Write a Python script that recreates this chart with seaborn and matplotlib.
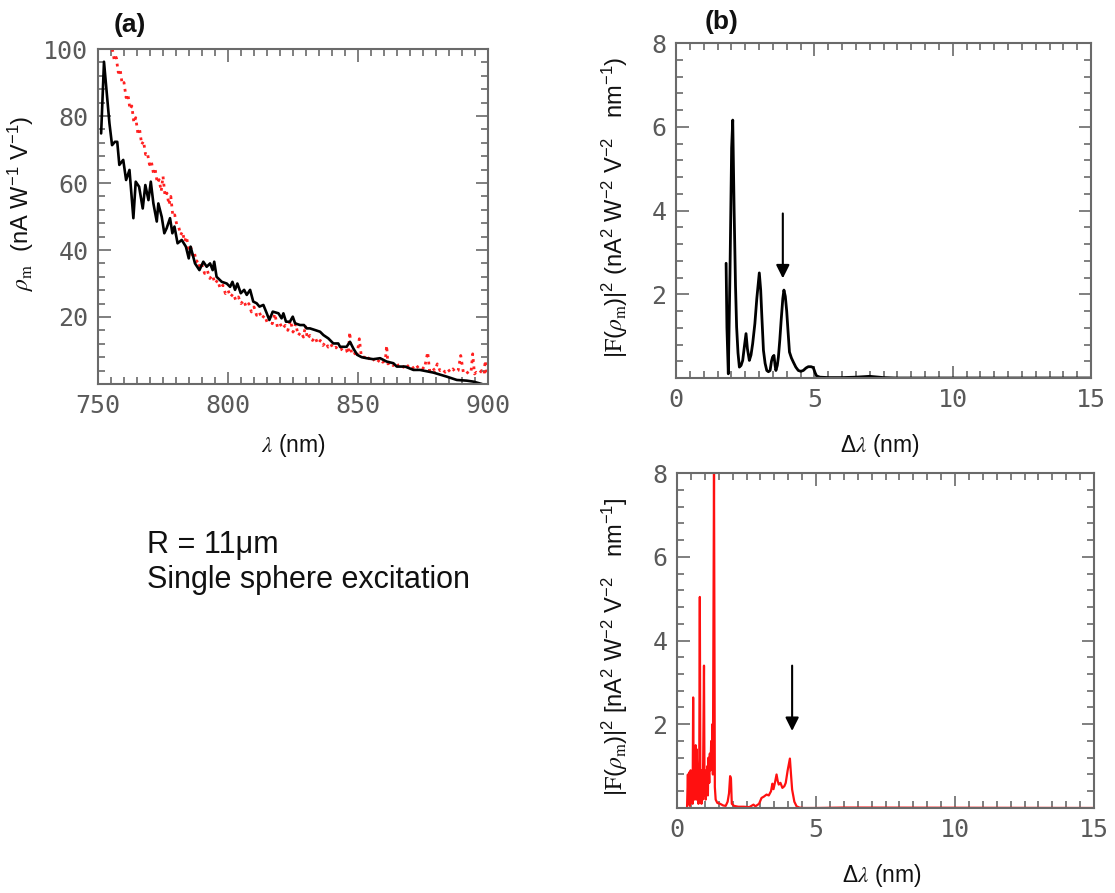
import numpy as np
import pandas as pd
import matplotlib
matplotlib.use("Agg")
import matplotlib.pyplot as plt
from matplotlib.ticker import MultipleLocator, FixedLocator, FixedFormatter
import seaborn as sns

# ---------------- data ----------------
# panel (a): measured (black) responsivity vs wavelength
a_black_x = [751.2, 752.3, 753.6, 754.4, 755.4, 756.5, 757.4, 758.2, 759.7, 760.8,
             762.1, 763.6, 764.5, 765.8, 767.2, 768.2, 769.4, 770.3, 771.3, 772.6,
             773.2, 774.5, 775.5, 776.4, 777.7, 778.6, 779.4, 780.6, 782.2, 783.8,
             784.9, 785.6, 787.3, 789.0, 790.5, 791.8, 793.1, 794.1, 794.7, 795.6,
             797.6, 799.5, 800.8, 801.7, 802.7, 803.6, 804.9, 806.2, 807.2, 808.5,
             809.7, 811.0, 812.1, 813.6, 814.9, 815.9, 817.2, 819.4, 820.6, 821.3,
             822.3, 823.8, 824.9, 825.8, 827.7, 829.2, 830.3, 831.5, 833.5, 835.4,
             836.7, 838.6, 840.5, 842.4, 843.1, 845.6, 846.9, 848.2, 849.7, 851.4,
             853.3, 855.9, 858.5, 861.0, 863.6, 864.9, 868.1, 871.3, 873.8, 879.0,
             884.1, 888.0, 891.8, 894.4, 897.6, 899.0]
a_black_y = [74.8, 96.2, 84.8, 77.8, 71.3, 72.3, 72.3, 65.4, 66.9, 60.9,
             63.9, 49.5, 60.4, 58.9, 52.4, 59.4, 54.9, 60.4, 53.9, 48.5,
             53.9, 49.9, 45.0, 46.5, 49.5, 45.0, 47.0, 42.0, 43.0, 41.0,
             37.5, 41.0, 36.0, 34.0, 36.5, 35.0, 36.0, 34.0, 36.5, 32.0,
             30.5, 30.0, 29.0, 30.5, 28.1, 30.0, 27.1, 28.1, 26.6, 28.1,
             24.6, 24.1, 23.1, 23.6, 21.1, 19.1, 21.6, 21.1, 19.6, 21.1,
             18.6, 18.6, 20.1, 18.1, 17.6, 17.6, 16.6, 16.6, 16.1, 15.6,
             14.6, 13.6, 12.1, 12.1, 11.1, 11.1, 12.6, 10.6, 8.7, 8.0,
             7.7, 7.4, 7.7, 6.7, 6.2, 5.2, 5.2, 4.2, 4.2, 3.4,
             2.2, 1.2, 1.0, 0.7, 0.0, -0.5]

# panel (a): calculated (red, dotted) responsivity vs wavelength
a_red_x = [755.5, 756.3, 757.0, 757.8, 758.5, 759.3, 760.0, 760.8, 761.5, 762.3,
           763.0, 763.8, 764.5, 765.3, 766.0, 766.8, 767.5, 768.3, 769.0, 769.8,
           770.5, 771.3, 772.0, 772.8, 773.5, 774.3, 775.0, 775.8, 776.5, 777.3,
           778.0, 778.8, 779.5, 780.3, 781.0, 781.8, 782.5, 783.3, 784.0, 784.8,
           785.5, 786.3, 787.0, 787.8, 788.5, 789.3, 790.0, 791.0, 792.0, 793.0,
           794.0, 795.0, 796.0, 797.0, 798.0, 799.0, 800.0, 801.0, 802.0, 803.0,
           804.0, 805.0, 806.0, 807.0, 808.0, 809.0, 810.0, 811.0, 812.0, 813.0,
           814.0, 815.0, 816.0, 817.0, 818.0, 819.0, 820.0, 821.0, 822.0, 823.0,
           824.0, 825.0, 826.0, 827.0, 828.0, 829.0, 829.8, 830.5, 831.5, 832.5,
           833.5, 834.5, 835.5, 836.5, 837.5, 838.5, 839.5, 840.5, 841.5, 842.5,
           843.5, 844.5, 845.5, 846.3, 846.8, 847.5, 848.5, 849.5, 850.5, 851.3,
           852.5, 853.5, 854.5, 855.5, 856.5, 857.5, 858.5, 859.5, 860.5, 861.0,
           861.5, 862.5, 863.5, 864.5, 865.5, 866.5, 867.5, 868.5, 869.5, 870.5,
           871.5, 872.5, 873.5, 874.5, 875.5, 876.8, 877.5, 878.5, 879.5, 880.5,
           881.5, 882.5, 883.5, 884.5, 885.5, 886.5, 887.5, 888.5, 889.5, 890.5,
           891.5, 892.5, 893.5, 894.1, 894.8, 895.5, 896.5, 897.5, 898.5, 898.9,
           899.5, 900.0]
a_red_y = [100.0, 96.5, 97.5, 93.0, 94.0, 89.5, 90.0, 85.5, 86.5, 82.0,
           83.0, 78.0, 79.5, 75.0, 76.0, 71.5, 72.5, 68.5, 69.0, 65.5,
           66.5, 63.0, 64.0, 60.0, 61.0, 57.5, 62.0, 56.0, 57.0, 53.5,
           56.0, 50.0, 50.5, 47.5, 47.0, 44.5, 45.5, 42.5, 44.0, 40.5,
           41.5, 38.5, 39.5, 36.5, 37.0, 34.5, 35.5, 33.0, 34.0, 31.5,
           32.5, 30.0, 31.0, 28.5, 29.5, 27.0, 28.0, 26.0, 27.0, 25.0,
           26.0, 24.0, 25.0, 23.0, 24.0, 21.5, 23.0, 20.5, 21.5, 19.5,
           20.5, 18.5, 20.0, 18.0, 21.0, 17.0, 18.0, 16.5, 17.5, 16.0,
           19.0, 15.5, 18.0, 14.5, 15.5, 14.0, 17.5, 13.5, 14.5, 13.0,
           14.0, 12.0, 13.0, 11.5, 12.5, 11.0, 12.0, 10.5, 11.0, 10.0,
           10.5, 9.5, 10.0, 9.0, 15.5, 9.0, 9.5, 8.0, 13.5, 8.0,
           8.0, 7.0, 8.0, 7.0, 7.5, 6.5, 7.5, 6.5, 7.0, 11.5,
           6.0, 6.5, 5.5, 6.5, 5.5, 6.0, 5.0, 6.0, 5.0, 5.5,
           4.5, 5.5, 4.5, 5.0, 4.5, 9.5, 4.0, 5.0, 4.0, 6.0,
           4.0, 4.5, 3.5, 4.5, 3.5, 4.5, 3.5, 4.0, 8.5, 3.5,
           4.0, 3.0, 4.0, 9.0, 3.0, 3.5, 3.0, 4.0, 3.0, 7.0,
           3.0, 3.5]

# panel (b) top: Fourier power spectrum of measured curve (black)
b_black_x = [1.81, 1.84, 1.89, 1.95, 2.01, 2.05, 2.10, 2.15, 2.19, 2.24,
             2.29, 2.35, 2.41, 2.47, 2.53, 2.58, 2.65, 2.71, 2.77, 2.85,
             2.92, 3.01, 3.06, 3.10, 3.16, 3.22, 3.28, 3.34, 3.40, 3.45,
             3.49, 3.54, 3.58, 3.61, 3.66, 3.70, 3.75, 3.80, 3.86, 3.90,
             3.95, 4.00, 4.05, 4.10, 4.17, 4.24, 4.33, 4.42, 4.51, 4.60,
             4.70, 4.78, 4.88, 4.96, 5.03, 5.08, 5.20, 5.50, 6.00, 6.50,
             7.00, 7.50, 8.00, 15.00]
b_black_y = [2.74, 1.20, 0.10, 2.50, 5.50, 6.16, 4.00, 2.20, 1.22, 0.60,
             0.26, 0.30, 0.42, 0.75, 1.06, 0.70, 0.42, 0.55, 0.82, 1.30,
             1.90, 2.51, 2.10, 1.50, 0.66, 0.35, 0.18, 0.15, 0.18, 0.40,
             0.50, 0.54, 0.30, 0.18, 0.30, 0.50, 0.90, 1.38, 1.90, 2.10,
             1.95, 1.60, 1.10, 0.62, 0.48, 0.38, 0.26, 0.18, 0.16, 0.18,
             0.24, 0.27, 0.27, 0.25, 0.12, 0.05, 0.02, 0.01, 0.01, 0.02,
             0.04, 0.01, 0.00, 0.00]

# panel (b) bottom: Fourier power spectrum of calculated curve (red)
c_red_x = [0.36, 0.39, 0.41, 0.44, 0.46, 0.49, 0.51, 0.54, 0.56, 0.58,
           0.60, 0.62, 0.65, 0.67, 0.69, 0.71, 0.73, 0.75, 0.77, 0.80,
           0.82, 0.84, 0.86, 0.88, 0.90, 0.92, 0.94, 0.97, 0.99, 1.01,
           1.03, 1.05, 1.07, 1.09, 1.11, 1.13, 1.16, 1.18, 1.20, 1.23,
           1.25, 1.27, 1.29, 1.33, 1.36, 1.39, 1.45, 1.55, 1.66, 1.75,
           1.82, 1.87, 1.91, 1.94, 1.97, 2.05, 2.20, 2.40, 2.60, 2.75,
           2.82, 2.95, 3.04, 3.12, 3.22, 3.30, 3.38, 3.43, 3.47, 3.52,
           3.58, 3.62, 3.66, 3.72, 3.79, 3.86, 3.91, 3.98, 4.06, 4.10,
           4.14, 4.22, 4.30, 4.40, 4.54, 5.00, 6.00, 15.00]
c_red_y = [0.00, 0.80, 0.10, 0.85, 0.05, 0.90, 0.30, 0.60, 0.10, 2.64,
           0.40, 0.20, 1.00, 1.50, 0.20, 1.40, 0.30, 0.90, 0.10, 1.20,
           5.04, 0.30, 0.90, 0.10, 0.70, 0.20, 1.10, 3.40, 0.30, 0.80,
           0.20, 0.90, 0.40, 1.00, 0.30, 1.20, 0.60, 1.30, 0.90, 1.60,
           1.10, 2.00, 0.80, 8.00, 0.50, 0.20, 0.12, 0.10, 0.06, 0.05,
           0.15, 0.35, 0.76, 0.70, 0.10, 0.05, 0.03, 0.03, 0.02, 0.08,
           0.04, 0.10, 0.24, 0.27, 0.32, 0.30, 0.40, 0.58, 0.45, 0.60,
           0.80, 0.65, 0.56, 0.60, 0.48, 0.52, 0.60, 0.90, 1.18, 0.80,
           0.44, 0.15, 0.04, 0.01, 0.00, 0.00, 0.01, 0.00]

# arrows (annotation: x, y_start, y_tip)
arrow_top = [3.86, 3.93, 2.38]
arrow_bottom = [4.14, 3.40, 1.84]

a_xticks = [750, 800, 850, 900]
a_yticks = [0, 20, 40, 60, 80, 100]
a_yticklabels = ["", "20", "40", "60", "80", "100"]
b_xticks = [0, 5, 10, 15]
b_yticks = [0, 2, 4, 6, 8]
b_yticklabels = ["", "2", "4", "6", "8"]

# ---------------- style ----------------
sns.set_theme(style="ticks")
plt.rcParams["font.family"] = ["Liberation Sans", "DejaVu Sans"]
plt.rcParams["mathtext.fontset"] = "stix"
plt.rcParams["mathtext.default"] = "regular"

SPINE = "#6a6a6a"
TICKTXT = "#5a5a5a"
LABEL = "#111111"

fig = plt.figure(figsize=(11.15, 8.93), dpi=100)
ax_a = fig.add_axes([0.0879, 0.5700, 0.3498, 0.3751])
ax_b = fig.add_axes([0.6063, 0.5767, 0.3722, 0.3751])
ax_c = fig.add_axes([0.6072, 0.0952, 0.3740, 0.3751])


def style_axes(ax, xmin, ymin, xlim, ylim, xticks, yticks, ylabels):
    ax.set_xlim(*xlim)
    ax.set_ylim(*ylim)
    ax.xaxis.set_major_locator(FixedLocator(xticks))
    ax.xaxis.set_minor_locator(MultipleLocator(xmin))
    ax.yaxis.set_major_locator(FixedLocator(yticks))
    ax.yaxis.set_major_formatter(FixedFormatter(ylabels))
    ax.yaxis.set_minor_locator(MultipleLocator(ymin))
    ax.tick_params(which="both", direction="in", top=True, right=True,
                   color=SPINE, width=1.2)
    ax.tick_params(which="major", length=9, pad=7)
    ax.tick_params(which="minor", length=5)
    ax.set_xticklabels([str(t) for t in xticks])
    for lab in ax.get_xticklabels() + ax.get_yticklabels():
        lab.set_fontfamily("DejaVu Sans Mono")
        lab.set_fontsize(18)
        lab.set_color(TICKTXT)
    for sp in ax.spines.values():
        sp.set_color(SPINE)
        sp.set_linewidth(1.5)
    ax.set_facecolor("white")


# ---- panel (a)
df_ab = pd.DataFrame({"x": a_black_x, "y": a_black_y})
df_ar = pd.DataFrame({"x": a_red_x, "y": a_red_y})
sns.lineplot(data=df_ar, x="x", y="y", ax=ax_a, color="#ff2020", lw=2.0,
             linestyle=":", estimator=None, sort=False)
sns.lineplot(data=df_ab, x="x", y="y", ax=ax_a, color="black", lw=1.9,
             estimator=None, sort=False)
style_axes(ax_a, 5, 4, (750, 900), (0, 100), a_xticks, a_yticks, a_yticklabels)
ax_a.set_xlabel(r"$\mathit{\lambda}$ (nm)", fontsize=16.5, color=LABEL)
ax_a.xaxis.set_label_coords(0.5, -0.143)
ax_a.set_ylabel(r"$\mathit{\rho}_\mathrm{m}$  (nA W$^{-1}$ V$^{-1}$)", fontsize=17, color=LABEL)
ax_a.yaxis.set_label_coords(-0.158, 0.54)

# ---- panel (b) top
df_b = pd.DataFrame({"x": b_black_x, "y": b_black_y})
sns.lineplot(data=df_b, x="x", y="y", ax=ax_b, color="black", lw=2.0,
             estimator=None, sort=False)
style_axes(ax_b, 0.5, 0.4, (0, 15), (0, 8), b_xticks, b_yticks, b_yticklabels)
ax_b.set_xlabel(r"$\Delta\mathit{\lambda}$ (nm)", fontsize=16.5, color=LABEL)
ax_b.xaxis.set_label_coords(0.49, -0.16)
ax_b.set_ylabel(r"$|\mathrm{F}(\mathit{\rho}_\mathrm{m})|^2$ (nA$^2$ W$^{-2}$ V$^{-2}$   nm$^{-1}$)",
                fontsize=17, color=LABEL)
ax_b.yaxis.set_label_coords(-0.112, 0.51)
ax_b.annotate("", xy=(arrow_top[0], arrow_top[2]), xytext=(arrow_top[0], arrow_top[1]),
              arrowprops=dict(arrowstyle="-|>", color="black", lw=1.5,
                              mutation_scale=20, shrinkA=0, shrinkB=0))

# ---- panel (b) bottom
df_c = pd.DataFrame({"x": c_red_x, "y": c_red_y})
sns.lineplot(data=df_c, x="x", y="y", ax=ax_c, color="#ff1010", lw=1.6,
             estimator=None, sort=False)
style_axes(ax_c, 0.5, 0.4, (0, 15), (0, 8), b_xticks, b_yticks, b_yticklabels)
ax_c.set_xlabel(r"$\Delta\mathit{\lambda}$ (nm)", fontsize=16.5, color=LABEL)
ax_c.xaxis.set_label_coords(0.49, -0.16)
ax_c.set_ylabel(r"$|\mathrm{F}(\mathit{\rho}_\mathrm{m})|^2$ [nA$^2$ W$^{-2}$ V$^{-2}$   nm$^{-1}$]",
                fontsize=17, color=LABEL)
ax_c.yaxis.set_label_coords(-0.113, 0.48)
ax_c.annotate("", xy=(arrow_bottom[0], arrow_bottom[2]),
              xytext=(arrow_bottom[0], arrow_bottom[1]),
              arrowprops=dict(arrowstyle="-|>", color="black", lw=1.5,
                              mutation_scale=20, shrinkA=0, shrinkB=0))

# ---- panel letters and text
W, H = 1115.0, 893.0
fig.text(130 / W, 1 - 25 / H, "(a)", fontsize=19, fontweight="bold",
         ha="center", va="center", color=LABEL)
fig.text(722 / W, 1 - 22 / H, "(b)", fontsize=19, fontweight="bold",
         ha="center", va="center", color=LABEL)
fig.text(147 / W, 1 - 553 / H, "R = 11μm", fontsize=22, ha="left",
         va="baseline", color=LABEL)
fig.text(147 / W, 1 - 588 / H, "Single sphere excitation", fontsize=22,
         ha="left", va="baseline", color=LABEL)

fig.savefig("out.png", dpi=100, facecolor="white")
